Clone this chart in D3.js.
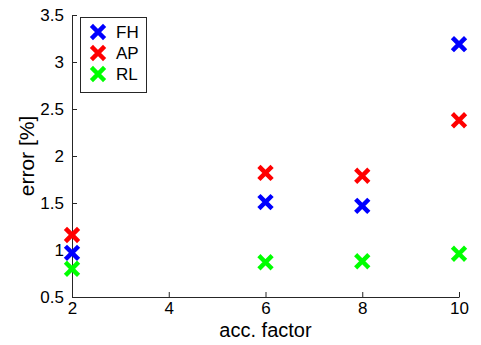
<!DOCTYPE html>
<html>
<head>
<meta charset="utf-8">
<script src="https://d3js.org/d3.v7.min.js"></script>
<style>
  body{ margin:0; background:#fff; font-family:"Liberation Sans", Arial, sans-serif; }
</style>
</head>
<body>
<div id="chart"></div>
<script>
var factors = [2, 6, 8, 10]
var seriesNames = ["FH", "AP", "RL"]
var seriesColors = ["#0000ff", "#ff0000", "#00ff00"]
var fhValues = [0.97, 1.51, 1.47, 3.19]
var apValues = [1.16, 1.82, 1.79, 2.38]
var rlValues = [0.80, 0.87, 0.88, 0.96]
var xTicks = [2, 4, 6, 8, 10]
var yTicks = [0.5, 1, 1.5, 2, 2.5, 3, 3.5]

var w = 481, h = 345
var padL = 72, padR = 459, padT = 15, padB = 297

var svg = d3.select("#chart").append("svg")
    .attr("width", w)
    .attr("height", h)

var x = d3.scaleLinear().domain([2, 10]).range([padL, padR])
var y = d3.scaleLinear().domain([0.5, 3.5]).range([padB, padT])

// axes, MATLAB style: ticks pointing inward
var xAxis = svg.append("g")
    .attr("transform", "translate(0," + padB + ")")
    .call(d3.axisBottom(x).tickValues(xTicks).tickSize(-5).tickPadding(5).tickSizeOuter(0))
var yAxis = svg.append("g")
    .attr("transform", "translate(" + padL + ",0)")
    .call(d3.axisLeft(y).tickValues(yTicks).tickFormat(d3.format("")).tickSize(-5).tickPadding(8).tickSizeOuter(0))

svg.selectAll(".domain").attr("stroke", "#262626")
svg.selectAll(".tick line").attr("stroke", "#262626")
svg.selectAll(".tick text")
    .attr("fill", "#000")
    .style("font-family", "'Liberation Sans', Arial, sans-serif")
    .style("font-size", "17px")
xAxis.selectAll(".tick text").attr("dy", "0.71em")

svg.append("text").text("acc. factor")
    .attr("x", (padL + padR) / 2)
    .attr("y", 337)
    .attr("text-anchor", "middle")
    .style("font-size", "20px")

svg.append("text").text("error [%]")
    .attr("transform", "translate(34," + ((padT + padB) / 2) + ") rotate(-90)")
    .attr("text-anchor", "middle")
    .style("font-size", "21px")

function cross(g, cx, cy, color) {
    var s = 5
    g.append("path")
        .attr("d", "M" + (cx - s) + "," + (cy - s) + "L" + (cx + s) + "," + (cy + s) +
                   "M" + (cx - s) + "," + (cy + s) + "L" + (cx + s) + "," + (cy - s))
        .attr("stroke", color)
        .attr("stroke-width", 4.5)
        .attr("stroke-linecap", "square")
        .attr("fill", "none")
}

var allSeries = [fhValues, apValues, rlValues]
var marks = svg.append("g")
allSeries.forEach(function(vals, si){
    vals.forEach(function(v, i){
        cross(marks, x(factors[i]), y(v), seriesColors[si])
    })
})

// legend
var legend = svg.append("g")
legend.append("rect")
    .attr("x", 80.5).attr("y", 17.5)
    .attr("width", 66).attr("height", 75)
    .attr("fill", "#fff")
    .attr("stroke", "#262626")
seriesNames.forEach(function(name, i){
    var ly = 32 + i * 21
    cross(legend, 98, ly, seriesColors[i])
    legend.append("text").text(name)
        .attr("x", 116).attr("y", ly + 6)
        .style("font-size", "17px")
})
</script>
</body>
</html>
